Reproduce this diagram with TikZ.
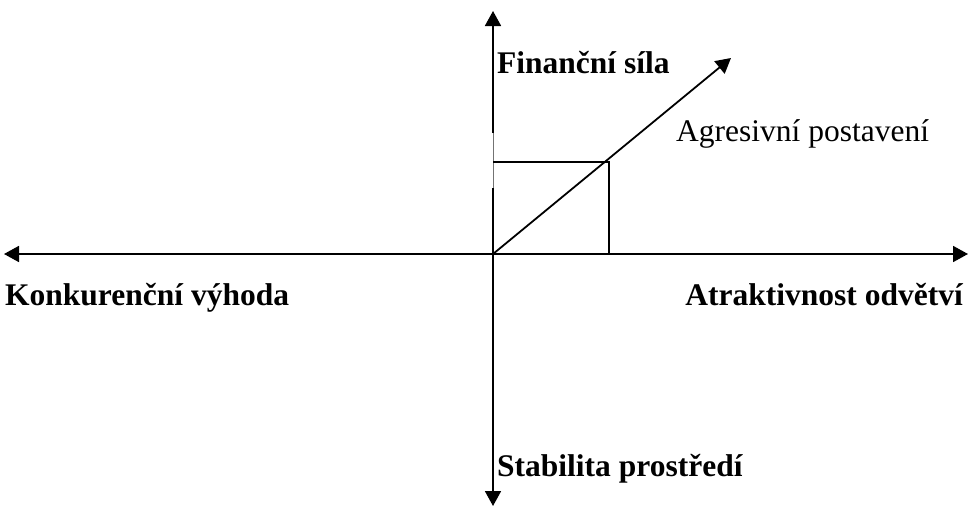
\documentclass[tikz,border=0pt]{standalone}
\usepackage{fontspec}
\setmainfont{Liberation Serif}
\usetikzlibrary{arrows.meta}
\begin{document}
\begin{tikzpicture}[x=1pt,y=-1pt,
  axis/.style={line width=1.8pt,-{Triangle[length=15pt,width=16pt]}},
  plain/.style={line width=1.8pt},
  lbl/.style={font=\fontsize{31.5}{36}\selectfont\bfseries,anchor=base west,inner sep=0pt},
  lblr/.style={font=\fontsize{31.5}{36}\selectfont,anchor=base west,inner sep=0pt}]
\useasboundingbox (0,0) rectangle (970,506);
\coordinate (O) at (493,254);
\coordinate (top) at (493,11);
\coordinate (bot) at (493,506);
\coordinate (left) at (4,254);
\coordinate (right) at (968,254);
\coordinate (g1) at (493,133);
\coordinate (g2) at (493,188);
\coordinate (rt) at (609,162);
\coordinate (rb) at (609,254);
\coordinate (lt) at (493,162);
\coordinate (tip) at (731,58);
% axes
\draw[axis] (g1) -- (top);
\draw[line width=0.6pt,black!55] (g1) -- (g2);
\draw[axis] (g2) -- (bot);
\draw[axis,{Triangle[length=15pt,width=16pt]}-{Triangle[length=15pt,width=16pt]}] (left) -- (right);
% rectangle
\draw[plain] (lt) -- (rt) -- (rb);
% diagonal
\draw[axis] (O) -- (tip);
% labels
\node[lbl] (fs) at (497,73) {Finanční síla};
\node[lblr] (ap) at (676,141) {Agresivní postavení};
\node[lbl] (kv) at (5,305) {Konkurenční výhoda};
\node[lbl,anchor=base east] (ao) at (963,305) {Atraktivnost odvětví};
\node[lbl] (sp) at (497,476) {Stabilita prostředí};
\end{tikzpicture}
\end{document}
